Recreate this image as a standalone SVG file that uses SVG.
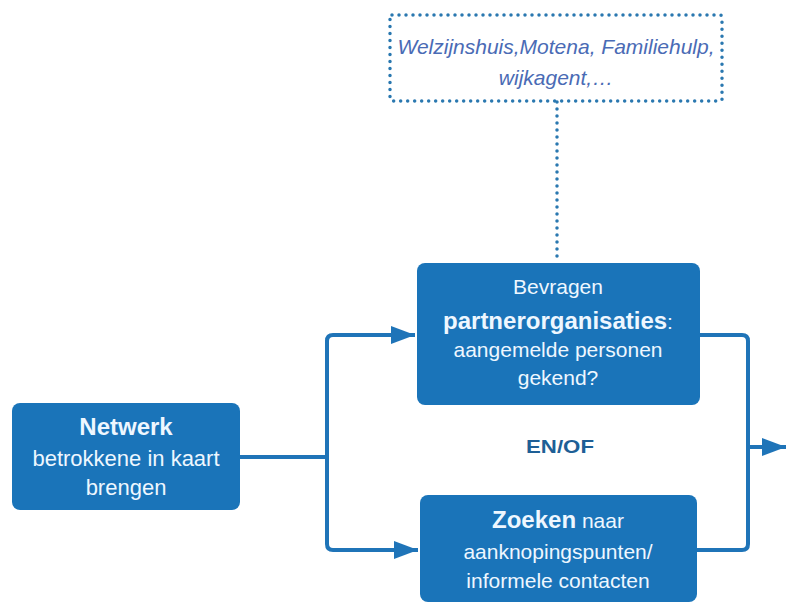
<svg xmlns="http://www.w3.org/2000/svg" width="786" height="603" viewBox="0 0 786 603">
<defs>
<style>
.box{fill:#1a74b9;}
.t{font-family:"Liberation Sans",Arial,sans-serif;fill:#eef7ff;text-anchor:middle;font-size:21px;}
.b{font-weight:bold;font-size:24px;}
.con{fill:none;stroke:#1f74b8;stroke-width:4;stroke-linejoin:round;}
.dot{fill:none;stroke:#2a78b0;stroke-width:3.5;stroke-linecap:round;stroke-dasharray:0 7;}
.note{font-family:"Liberation Sans",Arial,sans-serif;font-style:italic;font-size:21px;fill:#4a6bb5;text-anchor:middle;}
.enof{font-family:"Liberation Sans",Arial,sans-serif;font-weight:bold;font-size:19px;fill:#1e5f96;text-anchor:middle;}
</style>
<marker id="ah" viewBox="0 0 10 10" refX="10" refY="5" markerWidth="6" markerHeight="4.5" markerUnits="strokeWidth" orient="auto" preserveAspectRatio="none">
<path d="M0,0 L10,5 L0,10 z" fill="#1f74b8"/>
</marker>
</defs>
<rect width="786" height="603" fill="#ffffff"/>
<g id="connectors">
<path class="dot" d="M557,102 L557,263"/>
<path class="con" d="M240,457 L327,457"/>
<path class="con" d="M327,457 L327,341 Q327,335 333,335 L415,335" marker-end="url(#ah)"/>
<path class="con" d="M327,457 L327,544 Q327,550 333,550 L418,550" marker-end="url(#ah)"/>
<path class="con" d="M700,335 L742,335 Q748,335 748,341 L748,544 Q748,550 742,550 L697,550"/>
<path class="con" d="M748,447 L786,447" marker-end="url(#ah)"/>
</g>
<g id="note">
<rect class="dot" x="390" y="15" width="332" height="86" rx="2"/>
<text class="note" x="556" y="54">Welzijnshuis,Motena, Familiehulp,</text>
<text class="note" x="556" y="85">wijkagent,…</text>
</g>
<g id="partner">
<rect class="box" x="417" y="263" width="283" height="142" rx="8"/>
<text class="t" x="558" y="294">Bevragen</text>
<text class="t" x="558" y="329"><tspan class="b">partnerorganisaties</tspan>:</text>
<text class="t" x="558" y="357">aangemelde personen</text>
<text class="t" x="558" y="385">gekend?</text>
</g>
<g id="netwerk">
<rect class="box" x="12" y="403" width="228" height="107" rx="8"/>
<text class="t b" x="126" y="435">Netwerk</text>
<text class="t" x="126" y="466" style="font-size:22px">betrokkene in kaart</text>
<text class="t" x="126" y="495" style="font-size:22px">brengen</text>
</g>
<g id="enof">
<text class="enof" x="560" y="453" textLength="68" lengthAdjust="spacingAndGlyphs">EN/OF</text>
</g>
<g id="zoeken">
<rect class="box" x="420" y="495" width="277" height="107" rx="8"/>
<text class="t" x="558" y="528"><tspan class="b">Zoeken</tspan> naar</text>
<text class="t" x="558" y="559">aanknopingspunten/</text>
<text class="t" x="558" y="588">informele contacten</text>
</g>
</svg>
